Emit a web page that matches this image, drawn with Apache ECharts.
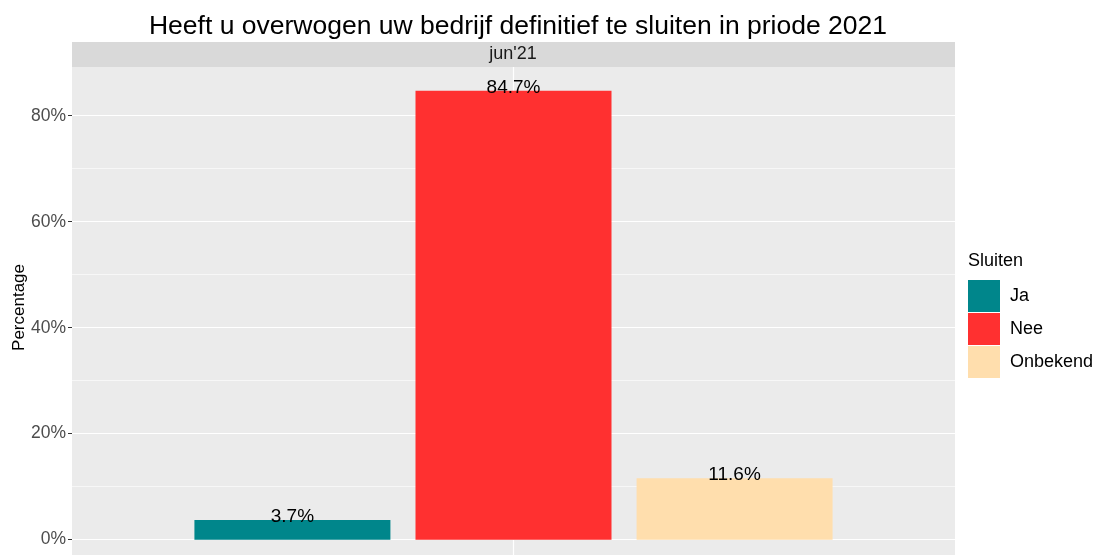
<!DOCTYPE html>
<html>
<head>
<meta charset="utf-8">
<script src="https://cdn.jsdelivr.net/npm/echarts@6/dist/echarts.min.js"></script>
<style>
  html, body { margin: 0; padding: 0; background: #fff; }
  #chart { width: 1095px; height: 556px; }
</style>
</head>
<body>
<div id="chart"></div>
<script>
const periods = ["jun'21"];
const groups = ['Ja', 'Nee', 'Onbekend'];
const values = [3.7, 84.7, 11.6];
const colors = ['#00868B', '#FF3030', '#FFDEAD'];
const majorTicks = [0, 20, 40, 60, 80];
const minorTicks = [10, 30, 50, 70];

const chart = echarts.init(document.getElementById('chart'));
const font = 'Liberation Sans, Arial, sans-serif';

const series = groups.map((name, i) => ({
  name,
  type: 'bar',
  z: 2,
  data: [values[i]],
  barWidth: 196,
  barGap: '12.8%',
  itemStyle: { color: colors[i] },
  label: {
    show: true,
    position: 'top',
    distance: -6,
    color: '#000',
    fontSize: 19,
    fontFamily: font,
    formatter: p => p.value.toFixed(1) + '%'
  }
}));

// minor gridlines and the vertical major gridline, behind the bars
// (attached to the middle series so the vertical line sits at the category centre)
series[1].markLine = {
  silent: true,
  z: 1,
  symbol: 'none',
  label: { show: false },
  lineStyle: { color: '#fff', type: 'solid', width: 0.6 },
  data: minorTicks.map(v => ({ yAxis: v })).concat([
    { xAxis: periods[0], lineStyle: { color: '#fff', type: 'solid', width: 1.2 } }
  ])
};

chart.setOption({
  animation: false,
  title: [
    {
      text: 'Heeft u overwogen uw bedrijf definitief te sluiten in priode 2021',
      left: 513, top: 8, textAlign: 'center',
      textStyle: { color: '#000', fontSize: 26.5, fontWeight: 'normal', fontFamily: font }
    },
    {
      text: 'Sluiten',
      left: 968, top: 252, padding: 0,
      textStyle: { color: '#000', fontSize: 18, fontWeight: 'normal', fontFamily: font }
    }
  ],
  legend: {
    orient: 'vertical',
    left: 968, top: 280, padding: 0,
    itemWidth: 32, itemHeight: 32, itemGap: 1,
    icon: 'rect',
    data: groups,
    textStyle: { color: '#000', fontSize: 18, fontFamily: font, padding: [0, 0, 0, 5] }
  },
  grid: {
    left: 72, right: 140, top: 67, bottom: 1,
    show: true, backgroundColor: '#EBEBEB', borderWidth: 0
  },
  graphic: [
    {
      type: 'rect', left: 72, top: 42, z: 0,
      shape: { width: 883, height: 25 },
      style: { fill: '#D9D9D9' }
    },
    {
      type: 'text', x: 513, y: 45, z: 1,
      style: { text: periods[0], fill: '#1A1A1A', fontSize: 18, fontFamily: font, align: 'center' }
    },
    {
      type: 'text', left: 11, top: 264, rotation: Math.PI / 2,
      style: { text: 'Percentage', fill: '#000', fontSize: 17, fontFamily: font }
    }
  ],
  xAxis: {
    type: 'category',
    data: periods,
    axisLine: { show: false },
    axisTick: { show: false },
    axisLabel: { show: false },
    splitLine: { show: false }
  },
  yAxis: {
    type: 'value',
    min: -2.9,
    max: 89.2,
    axisLine: { show: false },
    axisTick: { show: true, length: 4, lineStyle: { color: '#333' }, customValues: majorTicks },
    axisLabel: {
      color: '#4D4D4D', fontSize: 17.5, fontFamily: font, margin: 6,
      customValues: majorTicks,
      formatter: v => v + '%'
    },
    splitLine: { show: true, lineStyle: { color: '#fff', width: 1.2 } }
  },
  series
});
</script>
</body>
</html>
